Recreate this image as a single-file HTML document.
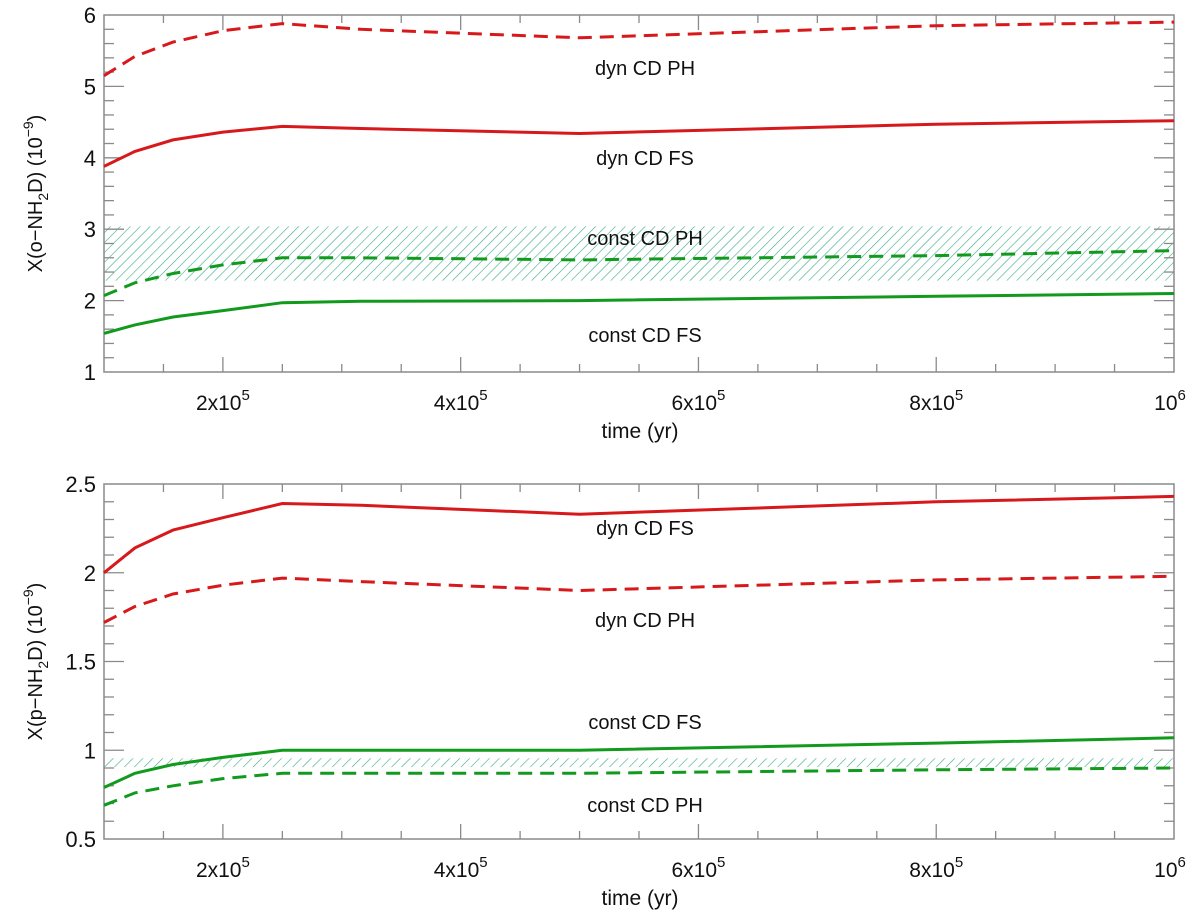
<!DOCTYPE html>
<html><head><meta charset="utf-8"><style>
body{margin:0;background:#fff;}
svg{display:block;font-family:"Liberation Sans",sans-serif;}
</style></head><body>
<svg id="c" width="1200" height="913"></svg>
<script>
const times=[1e5,1.26e5,1.58e5,2e5,2.5e5,3.16e5,5e5,8e5,1e6];
const topDynPH=[5.15,5.42,5.62,5.78,5.88,5.8,5.68,5.85,5.9];
const topDynFS=[3.88,4.09,4.25,4.36,4.44,4.41,4.34,4.47,4.52];
const topConstPH=[2.07,2.25,2.38,2.5,2.6,2.6,2.57,2.63,2.7];
const topConstFS=[1.54,1.66,1.77,1.86,1.97,1.99,2.0,2.06,2.1];
const topBand=[2.28,3.04];
const botDynFS=[2.0,2.14,2.24,2.31,2.39,2.38,2.33,2.40,2.43];
const botDynPH=[1.72,1.81,1.88,1.93,1.97,1.95,1.90,1.96,1.98];
const botConstFS=[0.79,0.87,0.92,0.96,1.0,1.0,1.0,1.04,1.07];
const botConstPH=[0.69,0.76,0.80,0.84,0.87,0.87,0.87,0.89,0.90];
const botBand=[0.905,0.955];
const xTickLabels=["2x10","4x10","6x10","8x10","10"];
const xTickVals=[2e5,4e5,6e5,8e5,1e6];
const xTickExp=["5","5","5","5","6"];
const topYTicks=[1,2,3,4,5,6];
const botYTicks=[0.5,1,1.5,2,2.5];
const botYLabels=["0.5","1","1.5","2","2.5"];

const NS="http://www.w3.org/2000/svg";
const svg=document.getElementById('c');
function el(t,a,p){const e=document.createElementNS(NS,t);for(const k in a)e.setAttribute(k,a[k]);(p||svg).appendChild(e);return e;}
const defs=el('defs',{});
const pat=el('pattern',{id:'hatch',width:7,height:7,patternUnits:'userSpaceOnUse',patternTransform:'rotate(45)'},defs);
el('line',{x1:0,y1:0,x2:0,y2:7,stroke:'#3aaa8a','stroke-width':1.2},pat);

const X0=104,X1=1174;
function xs(t){return X0+(t-1e5)/(9e5)*(X1-X0);}

function panel(name,yTop,yBot,vMin,vMax,minorStep,yticks,ylabels,series,band,labels,ytitle){
  const g=el('g',{});
  
  
  const ys=v=>yBot-(v-vMin)/(vMax-vMin)*(yBot-yTop);
  const b=el('rect',{x:X0,y:ys(band[1]),width:X1-X0,height:ys(band[0])-ys(band[1]),fill:'url(#hatch)'},g);
  
  
  const ax='#8a8a8a';
  el('rect',{x:X0,y:yTop,width:X1-X0,height:yBot-yTop,fill:'none',stroke:ax,'stroke-width':1.5},g);
  // y ticks
  const n=Math.round((vMax-vMin)/minorStep);
  for(let i=1;i<n;i++){const v=vMin+i*minorStep;const y=ys(v);
    const major=yticks.some(t=>Math.abs(t-v)<1e-6);const L=major?20:10;
    el('line',{x1:X0,y1:y,x2:X0+L,y2:y,stroke:ax,'stroke-width':1.3},g);
    el('line',{x1:X1,y1:y,x2:X1-L,y2:y,stroke:ax,'stroke-width':1.3},g);}
  yticks.forEach((v,i)=>{const t=el('text',{x:X0-8,y:ys(v)+8,'text-anchor':'end','font-size':22,fill:'#111'},g);t.textContent=ylabels[i];
    });
  // x ticks
  for(let t=1.5e5;t<1e6-1;t+=0.5e5){const x=xs(t);const major=Math.abs((t/1e5)%2)<1e-6;const L=major?15:8;
    el('line',{x1:x,y1:yBot,x2:x,y2:yBot-L,stroke:ax,'stroke-width':1.3},g);
    el('line',{x1:x,y1:yTop,x2:x,y2:yTop+L,stroke:ax,'stroke-width':1.3},g);}
  xTickVals.forEach((v,i)=>{const x=xs(v);const t=el('text',{x:x,y:yBot+38,'text-anchor':'middle','font-size':21,fill:'#111'},g);
    t.textContent=xTickLabels[i];const s=el('tspan',{dy:-10,'font-size':15},t);s.textContent=xTickExp[i];
    if(i==4)t.setAttribute('x',x-4);
    });
  const xt=el('text',{x:640,y:yBot+66,'text-anchor':'middle','font-size':21,fill:'#111'},g);xt.textContent='time (yr)';
  
  const yt=el('text',{transform:`translate(42,${(yTop+yBot)/2}) rotate(-90)`,'text-anchor':'middle','font-size':20,fill:'#111'},g);
  yt.innerHTML=ytitle;
  
  series.forEach(s=>{const d=times.map((t,i)=>(i?'L':'M')+xs(t).toFixed(1)+','+ys(s.v[i]).toFixed(1)).join('');
    const p=el('path',{d:d,fill:'none',stroke:s.c,'stroke-width':3,'stroke-dasharray':s.dash?'14,8':'none'},g);
    });
  labels.forEach(l=>{const t=el('text',{x:645,y:l[1],'text-anchor':'middle','font-size':20,fill:'#111'},g);t.textContent=l[0];
    });
}
const R='#d7191c',G='#119a1e';
panel('top-panel',15,372,1,6,0.2,topYTicks,topYTicks.map(String),
 [{v:topDynPH,c:R,dash:1,n:'dyn-cd-ph-line'},{v:topDynFS,c:R,n:'dyn-cd-fs-line'},{v:topConstPH,c:G,dash:1,n:'const-cd-ph-line'},{v:topConstFS,c:G,n:'const-cd-fs-line'}],
 topBand,[['dyn CD PH',75],['dyn CD FS',165],['const CD PH',245],['const CD FS',342]],
 'X(o−NH<tspan dy="6" font-size="14">2</tspan><tspan dy="-6">D)  (10</tspan><tspan dy="-9" font-size="14">−9</tspan><tspan dy="9">)</tspan>');
panel('bottom-panel',484,839,0.5,2.5,0.1,botYTicks,botYLabels,
 [{v:botDynFS,c:R,n:'dyn-cd-fs-line'},{v:botDynPH,c:R,dash:1,n:'dyn-cd-ph-line'},{v:botConstFS,c:G,n:'const-cd-fs-line'},{v:botConstPH,c:G,dash:1,n:'const-cd-ph-line'}],
 botBand,[['dyn CD FS',535],['dyn CD PH',627],['const CD FS',729],['const CD PH',812]],
 'X(p−NH<tspan dy="6" font-size="14">2</tspan><tspan dy="-6">D)  (10</tspan><tspan dy="-9" font-size="14">−9</tspan><tspan dy="9">)</tspan>');
</script>
</body></html>
